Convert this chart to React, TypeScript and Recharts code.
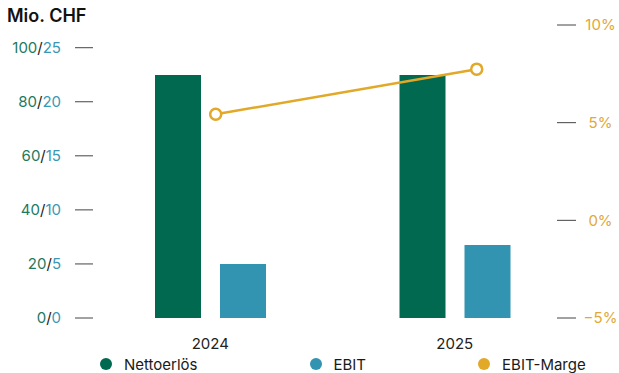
import React from "react";
import {
  Bar,
  ComposedChart,
  Legend,
  Line,
  XAxis,
  YAxis,
} from "recharts";

const years = ["2024", "2025"];
const nettoerloes = [89.9, 89.9];
const ebit = [5.0, 6.75];
const ebitMarge = [5.43, 7.74];

const leftTicks = [0, 20, 40, 60, 80, 100];
const ebitTicks = [0, 5, 10, 15, 20, 25];
const rightTicks = [-5, 0, 5, 10];

const seriesNames = ["Nettoerlös", "EBIT", "EBIT-Marge"];
const seriesColors = ["#006950", "#3294b0", "#e2a827"];

const FONT = "Inter, 'Noto Sans', sans-serif";
const LEFT_AXIS_WIDTH = 88;

const data = years.map((year, i) => ({
  year,
  pos: i,
  netto: nettoerloes[i],
  ebit: ebit[i],
  marge: ebitMarge[i],
}));

function LeftTick({ y, payload }: any) {
  const i = leftTicks.indexOf(payload.value);
  const x = LEFT_AXIS_WIDTH;
  return (
    <g>
      <line x1={x - 13} x2={x + 5} y1={y} y2={y} stroke="#444" strokeWidth={1} />
      <text x={x - 27} y={y} dy="0.36em" textAnchor="end" fontSize={15} fontFamily={FONT}>
        <tspan fill="#1c7a60">{payload.value}</tspan>
        <tspan fill="#222">/</tspan>
        <tspan fill="#3a98b5">{ebitTicks[i]}</tspan>
      </text>
    </g>
  );
}

function RightTick({ x, y, payload }: any) {
  const v = payload.value;
  const label = (v < 0 ? "\u2212" + Math.abs(v) : String(v)) + "%";
  return (
    <g>
      <line x1={x - 20} x2={x - 1} y1={y} y2={y} stroke="#444" strokeWidth={1} />
      <text x={x + 23.5} y={y} dy="0.36em" textAnchor="middle" fontSize={15} fontFamily={FONT} fill="#e2a836">
        {label}
      </text>
    </g>
  );
}

function LegendContent() {
  return (
    <div
      style={{
        width: 619,
        height: 22,
        display: "flex",
        alignItems: "center",
        paddingLeft: 100,
        boxSizing: "border-box",
        gap: 112,
        fontFamily: FONT,
        fontSize: 15,
        color: "#1a1a1a",
        position: "relative",
        top: 2,
      }}
    >
      {seriesNames.map((name, i) => (
        <div key={name} style={{ display: "flex", alignItems: "center", gap: 12 }}>
          <span
            style={{
              width: 12,
              height: 12,
              borderRadius: 6,
              background: seriesColors[i],
              display: "inline-block",
            }}
          />
          <span>{name}</span>
        </div>
      ))}
    </div>
  );
}

export default function App() {
  return (
    <div style={{ position: "absolute", left: 0, top: 0, width: 619, height: 373, background: "#fff" }}>
      <div
        style={{
          position: "absolute",
          left: 7,
          top: 7,
          fontFamily: FONT,
          fontSize: 18,
          lineHeight: "18px",
          fontWeight: 600,
          color: "#111",
        }}
      >
        Mio. CHF
      </div>
      <ComposedChart
        width={619}
        height={373}
        data={data}
        margin={{ top: 25, right: 0, bottom: 0, left: 0 }}
        barGap={19}
      >
        <XAxis
          xAxisId="cat"
          dataKey="year"
          height={33}
          tickLine={false}
          axisLine={false}
          tickMargin={14}
          tick={{ fill: "#222", fontSize: 15, fontFamily: FONT }}
        />
        <XAxis xAxisId="m" type="number" dataKey="pos" domain={[-0.4893, 1.3843]} allowDataOverflow hide />
        <YAxis
          yAxisId="left"
          width={LEFT_AXIS_WIDTH}
          domain={[0, 108.4]}
          ticks={leftTicks}
          interval={0}
          tickLine={false}
          axisLine={false}
          tickSize={0}
          tickMargin={0}
          tick={<LeftTick />}
        />
        <YAxis yAxisId="ebit" domain={[0, 27.1]} hide />
        <YAxis
          yAxisId="right"
          orientation="right"
          width={42}
          domain={[-5, 10]}
          ticks={rightTicks}
          interval={0}
          tickLine={false}
          axisLine={false}
          tickSize={0}
          tickMargin={0}
          tick={<RightTick />}
        />
        <Legend
          verticalAlign="bottom"
          content={<LegendContent />}
          wrapperStyle={{ left: 0, width: 619, height: 22 }}
        />
        <Bar
          xAxisId="cat"
          yAxisId="left"
          dataKey="netto"
          name={seriesNames[0]}
          fill={seriesColors[0]}
          barSize={46}
          isAnimationActive={false}
        />
        <Bar
          xAxisId="cat"
          yAxisId="ebit"
          dataKey="ebit"
          name={seriesNames[1]}
          fill={seriesColors[1]}
          barSize={46}
          isAnimationActive={false}
        />
        <Line
          xAxisId="m"
          yAxisId="right"
          dataKey="marge"
          name={seriesNames[2]}
          stroke={seriesColors[2]}
          strokeWidth={2.5}
          dot={{ r: 5.5, fill: "#fff", stroke: seriesColors[2], strokeWidth: 2.5 }}
          isAnimationActive={false}
        />
      </ComposedChart>
    </div>
  );
}
